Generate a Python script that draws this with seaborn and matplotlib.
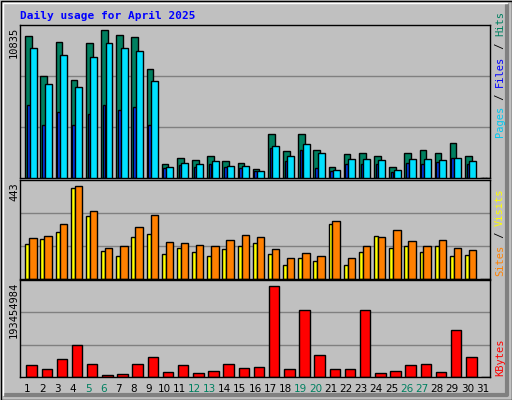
import matplotlib
matplotlib.use("Agg")
import matplotlib.pyplot as plt
import seaborn as sns
import numpy as np

days = list(range(1, 32))
hits = [10100,7230,9650,7010,9580,10505,10150,10010,7725,1025,1455,1310,1600,1240,1100,670,
        3165,1950,3165,2025,810,1740,1810,1600,810,1810,2025,1810,2520,1600,0]
files = [9225,6660,8725,6445,8580,9580,9225,9010,6870,810,1100,1025,1240,885,885,530,
         2310,1600,2450,1810,600,1385,1385,1310,600,1385,1385,1310,1455,1240,0]
pages = [5160,3805,4730,3805,4590,5230,4805,5020,3805,710,955,810,1025,810,740,475,
         2165,1240,2025,740,530,1025,1025,1025,460,1100,1025,1170,1455,1025,0]
visits = [158,181,214,417,288,126,103,191,205,112,140,122,103,135,149,163,
          112,62,98,80,251,62,122,195,140,149,122,149,103,108,0]
sites = [185,195,251,426,311,140,149,237,292,168,163,154,149,177,200,191,
         135,94,117,103,265,94,149,191,223,172,149,177,140,131,0]
kbytes = [23.7e6,15.6e6,35.8e6,64.3e6,25.7e6,3.4e6,5.4e6,25.7e6,39.9e6,9.5e6,23.7e6,7.4e6,11.5e6,
          25.7e6,17.6e6,19.6e6,186e6,15.6e6,137e6,44e6,15.6e6,15.6e6,137e6,7.4e6,11.5e6,
          23.7e6,25.7e6,9.5e6,94.7e6,39.9e6,0]
max_hits, max_sites, max_kb = 10835, 443, 193454984
weekend = {5, 6, 12, 13, 19, 20, 26, 27}

sns.set_style("white")
BG = "#C0C0C0"
W, H = 512, 400
fig = plt.figure(figsize=(5.12, 4.0), dpi=100, facecolor=BG)

def ax_px(x0, y0, x1, y1):
    return fig.add_axes([x0 / W, 1 - y1 / H, (x1 - x0) / W, (y1 - y0) / H])

# outer border / bevel
bg = fig.add_axes([0, 0, 1, 1]); bg.set_xlim(0, W); bg.set_ylim(H, 0); bg.axis("off")
bg.add_patch(plt.Rectangle((0.5, 0.5), W - 1, H - 1, fill=False, ec="black", lw=1))
bg.plot([W - 5, W - 5, 5], [5, H - 5, H - 5], color="#808080", lw=3)
bg.plot([3, 3, W - 5], [H - 5, 3, 3], color="white", lw=1)

x = np.arange(31)

def style(ax, ymax):
    ax.set_facecolor(BG)
    ax.set_xlim(0, 31); ax.set_ylim(0, ymax)
    for g in (ymax / 3, 2 * ymax / 3):
        ax.axhline(g, color="#808080", lw=1, zorder=0)
    ax.set_xticks([]); ax.set_yticks([])
    for s in ax.spines.values():
        s.set_color("black"); s.set_linewidth(1)

kw = dict(edgecolor="black", linewidth=1, align="edge")

a1 = ax_px(20, 25, 490, 178)
style(a1, max_hits * 1.005)
a1.bar(x + 0.35, hits, width=0.44, color="#008060", zorder=2, **kw)
a1.bar(x + 0.64, files, width=0.46, color="#00E0FF", zorder=3, **kw)
a1.bar(x + 0.46, pages, width=0.17, color="#0040FF", zorder=2.5, **kw)

a2 = ax_px(20, 180, 490, 279)
style(a2, max_sites * 1.02)
a2.bar(x + 0.35, visits, width=0.26, color="#FFFF00", zorder=2, **kw)
a2.bar(x + 0.61, sites, width=0.49, color="#FF8000", zorder=2, **kw)

a3 = ax_px(20, 280, 490, 377)
style(a3, max_kb * 1.02)
a3.bar(x + 0.42, kbytes, width=0.69, color="#FF0000", zorder=2, **kw)

mono = "DejaVu Sans Mono"
bg.text(20, 16, "Daily usage for April 2025", color="#0000FF", family=mono,
        fontsize=8, fontweight="bold", va="center", ha="left")

for val, ytop in ((max_hits, 25), (max_sites, 180), (max_kb, 280)):
    bg.text(14, ytop + 2, str(val), rotation=90, family=mono, fontsize=7.5,
            ha="right", va="center", rotation_mode="anchor", color="black")

def vlabel(parts, y_start, xpos=500):
    y = y_start
    for txt, col in parts:
        bg.text(xpos, y, txt, rotation=90, rotation_mode="anchor", ha="left",
                va="center", family=mono, fontsize=7.5, color=col)
        y -= 6.3 * len(txt)

vlabel([("Pages", "#00C8F0"), (" / ", "black"), ("Files", "#0000FF"),
        (" / ", "black"), ("Hits", "#008060")], 137)
vlabel([("Sites", "#FF8000"), (" / ", "black"), ("Visits", "#FFFF00")], 276)
vlabel([("KBytes", "#FF0000")], 376)

for i, d in enumerate(days):
    bg.text(20 + (i + 0.5) * 470 / 31, 389, str(d), ha="center", va="center",
            fontsize=7.5, family="DejaVu Sans",
            color="#008060" if d in weekend else "black")

fig.savefig("out.png", dpi=100, facecolor=BG)
